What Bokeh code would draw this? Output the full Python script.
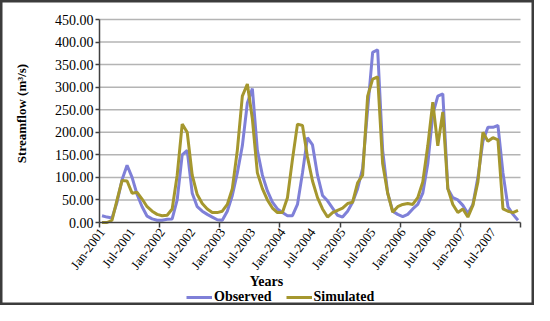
import math
from bokeh.plotting import figure
from bokeh.models import (FixedTicker, Legend, LegendItem, Label,
                          NumeralTickFormatter, Range1d)
from bokeh.embed import file_html
from bokeh.resources import INLINE

# ---- data -------------------------------------------------------------
tick_labels = ["Jan-2001", "Jul-2001", "Jan-2002", "Jul-2002", "Jan-2003",
               "Jul-2003", "Jan-2004", "Jul-2004", "Jan-2005", "Jul-2005",
               "Jan-2006", "Jul-2006", "Jan-2007", "Jul-2007"]

observed = [15, 12, 10, 45, 95, 127, 100, 62, 35, 14, 8, 5,
            5, 7, 8, 50, 150, 160, 65, 35, 25, 18, 12, 6,
            5, 25, 60, 110, 170, 265, 297, 160, 105, 70, 45, 30,
            22, 15, 15, 40, 110, 188, 172, 105, 60, 48, 32, 16,
            12, 25, 45, 75, 120, 250, 377, 383, 160, 65, 25, 18,
            13, 18, 30, 40, 65, 130, 240, 280, 285, 75, 55, 50,
            38, 20, 40, 100, 180, 211, 211, 215, 110, 35, 18, 5]

simulated = [0, 0, 5, 50, 93, 92, 65, 67, 52, 35, 25, 18,
             15, 16, 30, 105, 218, 200, 105, 62, 42, 30, 22, 22,
             25, 40, 75, 160, 280, 307, 230, 110, 75, 50, 32, 22,
             22, 55, 140, 218, 215, 145, 92, 55, 30, 12, 22, 27,
             32, 42, 45, 88, 105, 280, 318, 323, 130, 65, 23, 35,
             40, 42, 40, 55, 90, 170, 267, 170, 245, 75, 40, 22,
             30, 12, 38, 90, 200, 180, 188, 183, 30, 25, 22, 27]

y_ticks = [0, 50, 100, 150, 200, 250, 300, 350, 400, 450]
y_max = 450

# ---- layout (pixels) ---------------------------------------------------
W, H = 534, 305
FL, FR, FT, FB = 99, 520, 19, 222          # plot area in canvas pixels

n = len(observed)
months = list(range(n))
label_pos = [6 * k for k in range(len(tick_labels))]
year_bounds = [12 * k - 0.5 for k in range(n // 12 + 1)]

x_lo, x_hi = -0.5, n - 0.5
sx = (FR - FL) / (x_hi - x_lo)
sy = (FB - FT) / y_max
X0 = x_lo - FL / sx
X1 = x_hi + (W - FR) / sx
Y1 = y_max + FT / sy
Y0 = -(H - FB) / sy


def px2x(px):
    return X0 + px / sx


def py2y(py):
    return Y1 - py / sy


SERIF = "Liberation Serif"

p = figure(width=W, height=H, output_backend="svg", toolbar_location=None,
           x_range=Range1d(X0, X1), y_range=Range1d(Y0, Y1),
           min_border=0, min_border_left=0, min_border_right=0,
           min_border_top=0, min_border_bottom=0)
p.background_fill_color = "white"
p.border_fill_color = "white"
p.outline_line_color = "#3c3c3c"
p.outline_line_width = 4
p.xgrid.grid_line_color = None
p.ygrid.grid_line_color = None

# horizontal gridlines at the y tick values, across the plot area
grid_y = [t for t in y_ticks if t > 0]
p.segment(x0=[x_lo] * len(grid_y), x1=[x_hi] * len(grid_y),
          y0=grid_y, y1=grid_y, line_color="#b4b4b4", line_width=1.5)

r_obs = p.line(months, observed, line_color="#7f80d8", line_width=3)
r_sim = p.line(months, simulated, line_color="#a5972e", line_width=3)

# x axis
xa = p.xaxis[0]
xa.fixed_location = 0
xa.bounds = (x_lo, x_hi)
xa.ticker = FixedTicker(ticks=label_pos, minor_ticks=year_bounds)
xa.major_label_overrides = {pos: lab for pos, lab in zip(label_pos, tick_labels)}
xa.major_label_orientation = 0.93
xa.major_tick_line_color = None
xa.major_tick_out = 5
xa.major_tick_in = 0
xa.minor_tick_in = 0
xa.minor_tick_out = 5
xa.minor_tick_line_color = "#404040"
xa.minor_tick_line_width = 1.5
xa.axis_line_color = "#404040"
xa.axis_line_width = 1.5
xa.major_label_text_font = SERIF
xa.major_label_text_font_size = "13px"
xa.major_label_text_color = "black"
xa.major_label_standoff = 2

# y axis
ya = p.yaxis[0]
ya.fixed_location = x_lo
ya.bounds = (0, y_max)
ya.ticker = FixedTicker(ticks=y_ticks, minor_ticks=[])
ya.formatter = NumeralTickFormatter(format="0.00")
ya.major_tick_in = 0
ya.major_tick_out = 4
ya.major_tick_line_color = "#404040"
ya.major_tick_line_width = 1.5
ya.axis_line_color = "#404040"
ya.axis_line_width = 1.5
ya.major_label_text_font = SERIF
ya.major_label_text_font_size = "14px"
ya.major_label_text_color = "black"
ya.major_label_standoff = 2

p.add_layout(Label(x=px2x(266), y=py2y(281), text="Years",
                   text_align="center", text_baseline="middle",
                   text_font=SERIF, text_font_style="bold",
                   text_font_size="14px", text_color="black"))
p.add_layout(Label(x=px2x(21), y=py2y(113), text="Streamflow (m³/s)",
                   angle=math.pi / 2, text_align="center",
                   text_baseline="middle", text_font=SERIF,
                   text_font_style="bold", text_font_size="13px",
                   text_color="black"))

legend = Legend(items=[LegendItem(label="Observed", renderers=[r_obs]),
                       LegendItem(label="Simulated", renderers=[r_sim])],
                orientation="horizontal", location=(186, 0),
                border_line_color=None, background_fill_alpha=0,
                label_text_font=SERIF, label_text_font_style="bold",
                label_text_font_size="14px", label_text_color="black",
                label_height=14, glyph_width=26, glyph_height=12,
                label_standoff=2, spacing=14, padding=0, margin=0)
p.add_layout(legend, "center")

open("out.html", "w").write(file_html(p, INLINE))
